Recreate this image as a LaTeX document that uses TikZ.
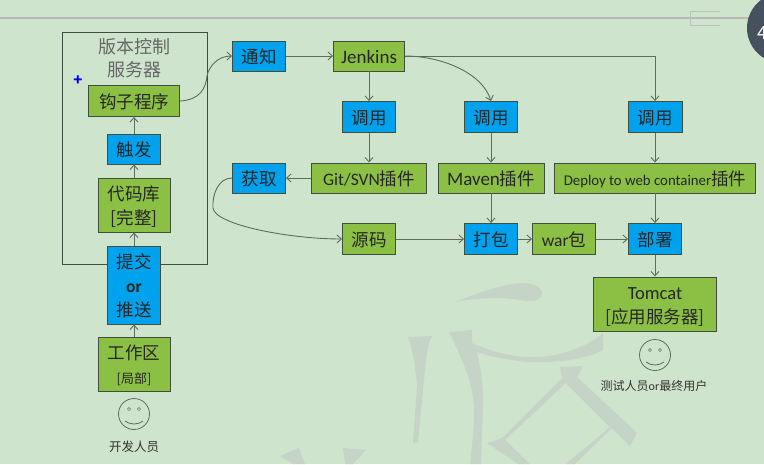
\documentclass[tikz,border=0pt]{standalone}
\usepackage{fontspec}
\setmainfont{Noto Sans CJK SC}
\newfontfamily\lat{Carlito}
\usetikzlibrary{arrows.meta,shadows}
\definecolor{bg}{HTML}{CFE4CD}
\definecolor{gbox}{HTML}{8BC045}
\definecolor{bbox}{HTML}{00A2EE}
\definecolor{edge}{HTML}{3F4F3F}
\definecolor{wm}{HTML}{C5D4C7}
\definecolor{ln}{HTML}{5F6B5F}
\tikzset{
 x=1pt,y=-1pt,
 box/.style={draw=edge,line width=.9pt,inner sep=0pt,text=black!85,font=\fontsize{17.5}{24}\selectfont,
   drop shadow={shadow xshift=.7pt,shadow yshift=-.9pt,opacity=.35,fill=black}},
 gb/.style={box,fill=gbox},
 bb/.style={box,fill=bbox},
 arr/.style={draw=ln,line width=.9pt,-{Straight Barb[length=4.5pt,width=8pt]}},
 wmk/.style={fill=wm,draw=none},
 lab/.style={text=black!80,inner sep=0pt,align=center},
 facel/.style={draw=ln,line width=.8pt},
}
\newcommand{\bx}[7]{\node[#1,minimum width=#4 pt,minimum height=#5 pt,#7] (#2) at (#3) {\vbox{\kern6pt\hbox{\begin{tabular}{@{}c@{}}#6\end{tabular}}}};}
\begin{document}
\begin{tikzpicture}
\useasboundingbox (0,0) rectangle (764,464);
\fill[bg] (0,0) rectangle (764,464);
% watermark
\fill[wmk] (455,302) .. controls (480,292) and (505,283) .. (525,283) .. controls (538,284) and (543,290) .. (542,294) .. controls (541,300) and (535,302) .. (525,301) .. controls (505,297) and (480,297) .. (455,302) -- cycle;
\fill[wmk] (408,337) -- (432,336) .. controls (427,345) and (426,360) .. (425,370) -- (418,442) -- (413,443) -- (417,387) .. controls (416,370) and (413,350) .. (408,337) -- cycle;
\fill[wmk] (449,332) -- (472,330) -- (472,343) .. controls (500,355) and (520,358) .. (540,357) .. controls (565,355) and (590,345) .. (603,333) -- (603,350) .. controls (585,360) and (555,363) .. (527,362) .. controls (510,360) and (490,357) .. (477,352) .. controls (481,370) and (484,390) .. (483,405) -- (481,464) -- (470,464) .. controls (474,430) and (475,410) .. (473,398) .. controls (470,375) and (460,355) .. (449,332) -- cycle;
\fill[wmk] (560,367) -- (583,366) -- (577,377) -- (637,433) -- (630,446) -- (612,428) -- (575,464) -- (566,464) -- (610,427) -- (566,383) -- (505,440) -- (530,464) -- (518,464) -- (487,443) -- (502,438) -- (562,378) -- cycle;
\fill[wmk] (280,456) -- (299,448) -- (305,464) -- (293,464) -- cycle;
\fill[wmk] (343,448) -- (366,450) -- (353,464) -- (345,464) -- cycle;
% top rule
\draw[black!28,line width=2pt] (0,18) -- (764,18);
\draw[black!25,line width=.9pt] (720,11) -- (690,11) -- (690,25) -- (720,25);
\fill[fill={rgb,255:red,70;green,80;blue,94}] (782,28) circle (35);
\node[text=white,font=\fontsize{18}{18}\selectfont,inner sep=0pt] at (762,33) {4};
% server frame
\draw[edge,line width=.8pt] (62,32) rectangle (207,264);
\node[lab,font=\fontsize{18}{23.5}\selectfont,text=black!60] (title) at (134,58) {版本控制\\服务器};
\node[text=blue,font=\bfseries\fontsize{15}{15}\selectfont,inner sep=0pt] (plus) at (78,81) {+};
% boxes
\bx{gb}{hook}{134,101}{91}{31}{钩子程序}{}
\bx{bb}{trig}{134,149}{53}{30}{触发}{}
\bx{gb}{repo}{134,205}{72}{54}{代码库\\{[}完整{]}}{}
\bx{bb}{push}{134,285}{53}{77}{提交\\{\lat\bfseries or}\\推送}{}
\bx{gb}{work}{134,364}{72}{50}{工作区\\{\fontsize{13}{14}\selectfont[局部]}}{}
\bx{bb}{notify}{259,56}{53}{30}{通知}{}
\bx{bb}{fetch}{259,178}{53}{30}{获取}{}
\bx{gb}{jenk}{369,56}{71}{30}{{\lat\fontsize{19}{24}\selectfont Jenkins}}{}
\bx{bb}{call1}{369,117}{53}{31}{调用}{}
\bx{bb}{call2}{491,117}{53}{31}{调用}{}
\bx{bb}{call3}{655,117}{54}{31}{调用}{}
\bx{gb}{git}{369,178}{115}{30}{{\lat Git/SVN}插件}{}
\bx{gb}{mvn}{491,178}{106}{30}{{\lat\fontsize{19}{24}\selectfont Maven}插件}{}
\bx{gb}{dep}{655,178}{201}{30}{{\lat\fontsize{14.8}{18}\selectfont Deploy to web container}插件}{}
\bx{gb}{src}{369,239}{53}{31}{源码}{}
\bx{bb}{pack}{491,239}{53}{31}{打包}{}
\bx{gb}{war}{564,239}{63}{31}{{\lat war}包}{}
\bx{bb}{depl}{655,239}{53}{31}{部署}{}
\bx{gb}{tom}{655,304}{123}{53}{{\lat\fontsize{18.5}{24}\selectfont Tomcat}\\{[}应用服务器{]}}{}
% smiley faces
\node[draw=ln,circle,line width=.8pt,minimum size=31pt,inner sep=0pt] (f1) at (134,414) {};
\node[draw=ln,circle,line width=.8pt,minimum size=31pt,inner sep=0pt] (f2) at (655,355) {};
\foreach \f in {f1,f2}{
 \begin{scope}[shift={(\f.center)}]
 \draw[draw=ln,line width=.5pt] (-5,-5) circle (1.6) (5,-5) circle (1.6);
 \draw[facel] (-9,7) .. controls (-4,11) and (4,11) .. (9,7);
 \end{scope}
}
\node[lab,font=\fontsize{12.5}{14}\selectfont] (dev) at (134,447) {开发人员};
\node[lab,font=\fontsize{12}{14}\selectfont] (tester) at (654,386) {测试人员{\lat or}最终用户};
% connectors
\draw[arr] (work) -- (push);
\draw[arr] (push) -- (repo);
\draw[arr] (repo) -- (trig);
\draw[arr] (trig) -- (hook);
\draw[arr] (hook.east) .. controls (200,100) and (206,88) .. (207,76) .. controls (209,66) and (218,56) .. (notify.west);
\draw[arr] (notify) -- (jenk);
\draw[arr] (jenk) -- (call1);
\draw[arr] (call1) -- (git);
\draw[arr] (git) -- (fetch);
\draw[arr] (jenk.east) .. controls (440,56) and (482,72) .. (call2.north);
\draw[arr] (jenk.east) -- (655,56) -- (call3.north);
\draw[arr] (call2) -- (mvn);
\draw[arr] (call3) -- (dep);
\draw[arr] (mvn) -- (pack);
\draw[arr] (dep) -- (depl);
\draw[arr] (fetch.west) .. controls (218,178) and (212,195) .. (213,208) .. controls (215,225) and (290,239) .. (src.west);
\draw[arr] (src) -- (pack);
\draw[arr] (pack) -- (war);
\draw[arr] (war) -- (depl);
\draw[arr] (depl) -- (tom);
\end{tikzpicture}
\end{document}
